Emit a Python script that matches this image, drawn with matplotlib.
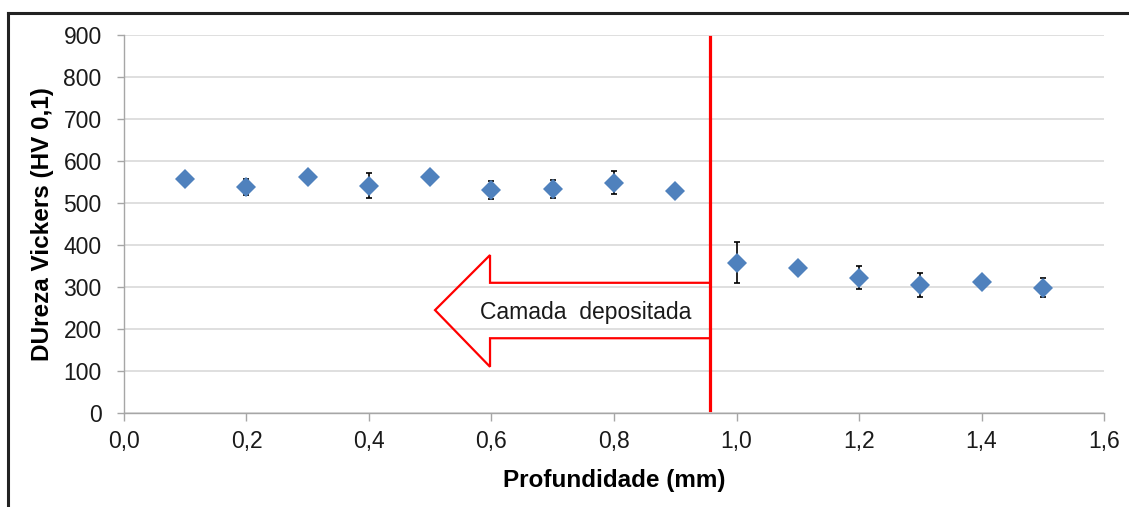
import numpy as np
import matplotlib.pyplot as plt
from matplotlib.patches import Polygon
from matplotlib.lines import Line2D
from matplotlib.ticker import FuncFormatter

plt.rcParams['font.family'] = ['Liberation Sans', 'DejaVu Sans']

# Vickers microhardness profile (HV 0,1) versus depth
depth = [0.1, 0.2, 0.3, 0.4, 0.5, 0.6, 0.7, 0.8, 0.9, 1.0, 1.1, 1.2, 1.3, 1.4, 1.5]
hardness = [558, 538, 563, 541, 561, 531, 533, 548, 529, 358, 346, 322, 304, 313, 298]
hardness_err = [8, 20, 8, 30, 8, 22, 22, 27, 8, 49, 8, 27, 29, 8, 23]

interface = 0.957
arrow_label = 'Camada depositada'

fig = plt.figure(figsize=(11.29, 5.07), dpi=100)
ax = fig.add_axes([0.1098, 0.1854, 0.8681, 0.7456])

grey = '#a6a6a6'
ax.errorbar(depth, hardness, yerr=hardness_err, fmt='none', ecolor='black',
            elinewidth=1.2, capsize=2.5, capthick=1.2, zorder=3)
ax.plot(depth, hardness, linestyle='none', marker='D', markersize=10,
        color='#4f81bd', markeredgewidth=0, zorder=4)

# boundary between deposited layer and substrate
ax.plot([interface, interface], [6, 895], color='#ff0000', lw=2.3, zorder=5)

# hollow arrow pointing into the deposited layer
head_x, tip_x = 0.5976, 0.5078
arrow = Polygon([(tip_x, 245), (head_x, 376), (head_x, 310), (interface, 310),
                 (interface, 178), (head_x, 178), (head_x, 110)],
                closed=True, fill=False, edgecolor='#ff0000', lw=1.6, zorder=5)
ax.add_patch(arrow)
ax.text(0.754, 240, arrow_label.replace(' ', '  '), ha='center', va='center',
        fontsize=16.5, color='#1a1a1a', zorder=6)

ax.set_xlim(0, 1.6)
ax.set_ylim(0, 900)
ax.set_xticks(np.arange(0, 1.61, 0.2))
ax.set_yticks(np.arange(0, 901, 100))
ax.xaxis.set_major_formatter(FuncFormatter(lambda v, p: f'{v:.1f}'.replace('.', ',')))
ax.grid(axis='y', color='#d9d9d9', lw=1.2, zorder=0)
ax.set_axisbelow(True)

for side in ('top', 'right'):
    ax.spines[side].set_visible(False)
for side in ('left', 'bottom'):
    ax.spines[side].set_color(grey)
    ax.spines[side].set_linewidth(1.0)

ax.tick_params(axis='y', length=5, width=1.0, color=grey, pad=11,
               labelsize=16.5, labelcolor='#1a1a1a')
ax.tick_params(axis='x', length=6, width=1.0, color=grey, pad=6,
               labelsize=16.5, labelcolor='#1a1a1a')

ax.set_xlabel('Profundidade (mm)', fontsize=17.5, fontweight='bold', labelpad=12)
ax.set_ylabel('DUreza Vickers (HV 0,1)', fontsize=17.5, fontweight='bold')
ax.yaxis.set_label_coords(-0.0714, 0.5)

# chart frame (top and left edges)
fig.add_artist(Line2D([0.0071, 1.0], [0.9744, 0.9744], transform=fig.transFigure,
                      color='#222222', lw=2.2))
fig.add_artist(Line2D([0.0071, 0.0071], [0.0, 0.9744], transform=fig.transFigure,
                      color='#222222', lw=2.2))

fig.savefig('out.png', dpi=100)
